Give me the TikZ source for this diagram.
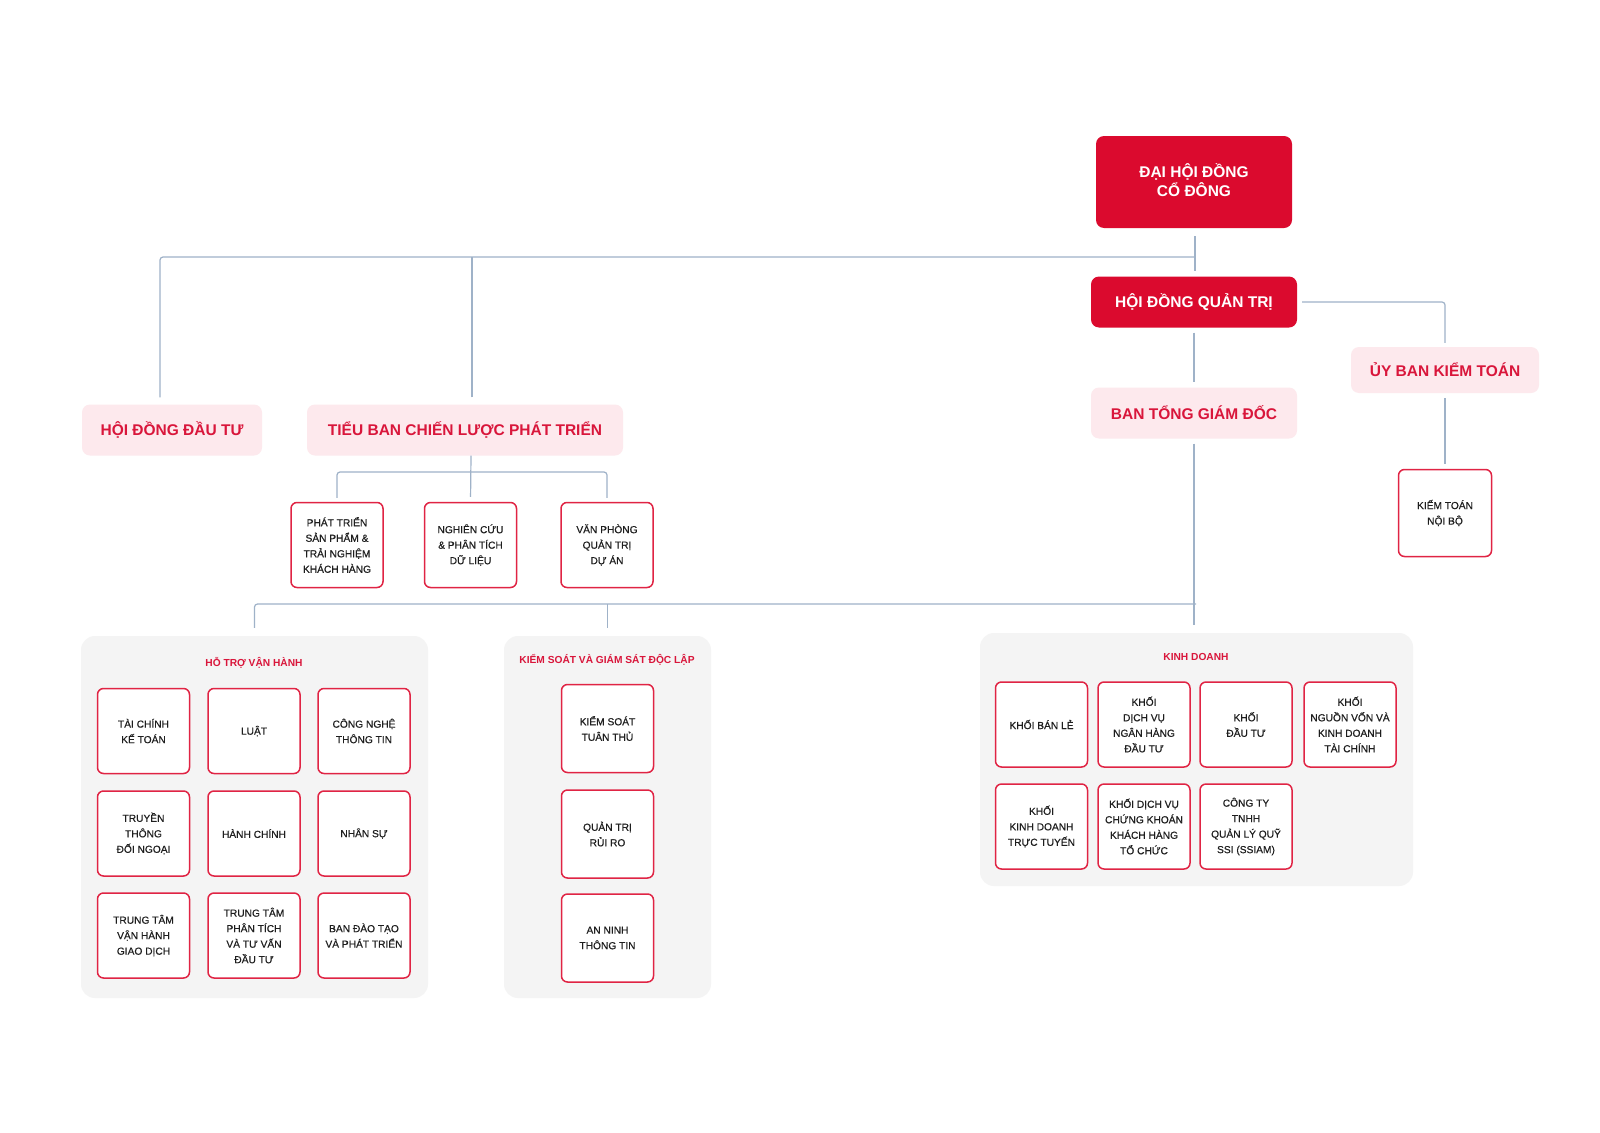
\documentclass[tikz,border=0pt]{standalone}
\usepackage{fontspec}
\setmainfont{Liberation Sans}
\newfontfamily\medfont{Liberation Sans}[FakeBold=0.5]
\definecolor{ssired}{HTML}{DB0A2E}
\definecolor{ssipink}{HTML}{FDE9ED}
\definecolor{ssitxt}{HTML}{D9163B}
\definecolor{ssiedge}{HTML}{E02444}
\definecolor{ink}{HTML}{1E1E1E}
\definecolor{pnl}{HTML}{F4F4F4}
\definecolor{wire}{HTML}{9FB2C8}
\tikzset{
  redbox/.style={fill=ssired, rounded corners=8pt, text=white, align=center,
    font=\bfseries\fontsize{15.5}{18.5}\selectfont},
  pinkbox/.style={fill=ssipink, rounded corners=8pt, text=ssitxt, align=center,
    font=\bfseries\fontsize{15.5}{18.5}\selectfont},
  unitbox/.style={draw=ssiedge, line width=1.5pt, fill=white, rounded corners=6pt,
    minimum width=92pt, minimum height=85pt, align=center, text=ink,
    font=\medfont\fontsize{10.2}{15.5}\selectfont},
  panelbox/.style={fill=pnl, rounded corners=14pt},
  ptitle/.style={text=ssitxt, font=\bfseries\fontsize{10.2}{12}\selectfont},
  link/.style={draw=wire, line width=1.2pt, rounded corners=3pt}
}
\newcommand\ubox[3]{\node[unitbox] (#1) at (#2) {#3};}

\begin{document}
\begin{tikzpicture}[x=1pt,y=-1pt]
  \useasboundingbox[fill=white] (0,0) rectangle (1600,1132);

  % board level
  \node[redbox, minimum width=196pt, minimum height=92pt, text depth=4pt] (dhdcd) at (1194,182) {ĐẠI HỘI ĐỒNG\\CỔ ĐÔNG};
  \node[redbox, minimum width=206pt, minimum height=51pt] (hdqt) at (1194,302) {HỘI ĐỒNG QUẢN TRỊ};
  \node[pinkbox, minimum width=206pt, minimum height=51pt] (btgd) at (1194,413) {BAN TỔNG GIÁM ĐỐC};
  \node[pinkbox, minimum width=188pt, minimum height=46pt] (ubkt) at (1445,370) {ỦY BAN KIỂM TOÁN};
  \node[unitbox, minimum width=93pt, minimum height=87pt] (ktnb) at (1445,513) {KIẾM TOÁN\\NỘI BỘ};
  \node[pinkbox, minimum width=180pt, minimum height=51pt] (hddt) at (172,430) {HỘI ĐỒNG ĐẦU TƯ};
  \node[pinkbox, minimum width=316pt, minimum height=51pt] (tbcl) at (465,430) {TIỂU BAN CHIẾN LƯỢC PHÁT TRIỂN};

  % under the strategy committee
  \ubox{ptsp}{337,545}{PHÁT TRIỂN\\SẢN PHẨM \&\\TRẢI NGHIỆM\\KHÁCH HÀNG}
  \ubox{ncpt}{470.5,545}{NGHIÊN CỨU\\\& PHÂN TÍCH\\DỮ LIỆU}
  \ubox{vpqt}{607,545}{VĂN PHÒNG\\QUẢN TRỊ\\DỰ ÁN}

  % panels
  \node[panelbox, minimum width=347pt, minimum height=362pt] (htvh) at (254.5,817) {};
  \node[panelbox, minimum width=207pt, minimum height=362pt] (ksgs) at (607.5,817) {};
  \node[panelbox, minimum width=433pt, minimum height=253pt] (kd) at (1196.5,759.5) {};
  \node[ptitle] (htvhT) at (254,663) {HỖ TRỢ VẬN HÀNH};
  \node[ptitle] (ksgsT) at (607,660) {KIỂM SOÁT VÀ GIÁM SÁT ĐỘC LẬP};
  \node[ptitle] (kdT) at (1196,657) {KINH DOANH};

  % ho tro van hanh, row 1
  \ubox{tckt}{143.5,731}{TÀI CHÍNH\\KẾ TOÁN}
  \ubox{luat}{254,731}{LUẬT}
  \ubox{cntt}{364,731}{CÔNG NGHỆ\\THÔNG TIN}
  % row 2
  \ubox{ttdn}{143.5,833.5}{TRUYỀN\\THÔNG\\ĐỐI NGOẠI}
  \ubox{hc}{254,833.5}{HÀNH CHÍNH}
  \ubox{ns}{364,833.5}{NHÂN SỰ}
  % row 3
  \ubox{ttvh}{143.5,935.5}{TRUNG TÂM\\VẬN HÀNH\\GIAO DỊCH}
  \ubox{ttpt}{254,935.5}{TRUNG TÂM\\PHÂN TÍCH\\VÀ TƯ VẤN\\ĐẦU TƯ}
  \ubox{bdt}{364,935.5}{BAN ĐÀO TẠO\\VÀ PHÁT TRIỂN}

  % kiem soat
  \node[unitbox, minimum height=88pt] (ksth) at (607.5,728.5) {KIỂM SOÁT\\TUÂN THỦ};
  \node[unitbox, minimum height=88pt] (qtrr) at (607.5,834) {QUẢN TRỊ\\RỦI RO};
  \node[unitbox, minimum height=88pt] (antt) at (607.5,938) {AN NINH\\THÔNG TIN};

  % kinh doanh, row 1
  \ubox{kbl}{1041.5,724.5}{KHỐI BÁN LẺ}
  \ubox{kdv}{1144,724.5}{KHỐI\\DỊCH VỤ\\NGÂN HÀNG\\ĐẦU TƯ}
  \ubox{kdt}{1246,724.5}{KHỐI\\ĐẦU TƯ}
  \ubox{knv}{1350,724.5}{KHỐI\\NGUỒN VỐN VÀ\\KINH DOANH\\TÀI CHÍNH}
  % row 2
  \ubox{kkd}{1041.5,826.5}{KHỐI\\KINH DOANH\\TRỰC TUYẾN}
  \ubox{kck}{1144,826.5}{KHỐI DỊCH VỤ\\CHỨNG KHOÁN\\KHÁCH HÀNG\\TỔ CHỨC}
  \ubox{ssiam}{1246,826.5}{CÔNG TY\\TNHH\\QUẢN LÝ QUỸ\\SSI (SSIAM)}

  % connectors
  \coordinate (busA) at (1195,257);
  \coordinate (legA) at (160,257);
  \coordinate (legB) at (472,257);
  \coordinate (busB) at (471,472);
  \coordinate (busC) at (1196,604);
  \draw[link, shorten <=8pt, shorten >=5pt] (dhdcd.south -| busA) -- (hdqt.north -| busA);
  \draw[link, shorten <=7pt] (legA |- hddt.north) -- (legA) -- (busA);
  \draw[link, shorten <=7pt] (legB |- tbcl.north) -- (legB);
  \draw[link, shorten <=5pt, shorten >=4pt] (hdqt.east) -| (ubkt.north);
  \draw[link, shorten <=5pt, shorten >=5pt] (hdqt.south) -- (btgd.north);
  \draw[link, shorten <=5pt, shorten >=5pt] (ubkt.south) -- (ktnb.north);
  \draw[link, shorten >=5pt] (tbcl.south -| busB) -- (ncpt.north);
  \draw[link, shorten <=4pt, shorten >=4pt] (ptsp.north) |- (busB) -| (vpqt.north);
  \draw[link, shorten <=5pt, shorten >=8pt] (btgd.south) -- (kd.north -| btgd.south);
  \draw[link, shorten <=8pt] (htvh.north) |- (busC);
  \draw[link, shorten <=8pt] (ksgs.north) -- (ksgs.north |- busC);
\end{tikzpicture}
\end{document}
